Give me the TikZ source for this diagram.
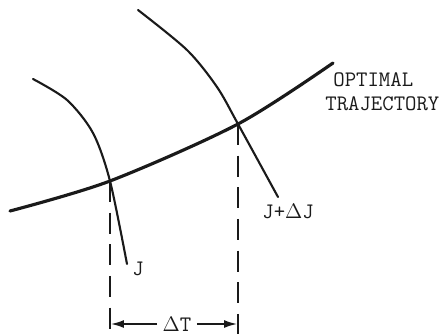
\documentclass[tikz,border=0pt]{standalone}
\usepackage{xcolor}
\definecolor{cInk}{HTML}{1A1A1A}
\usetikzlibrary{positioning,arrows.meta}
\tikzset{
  curve-traj/.style={draw=cInk,line width=1.8pt,line cap=round},
  curve-cost/.style={draw=cInk,line width=1.2pt,line cap=round},
  guide-line/.style={draw=cInk,line width=0.9pt,dash pattern=on 12pt off 6pt},
  dim-arrow/.style={-{Latex[length=2.6mm,width=1.6mm]},draw=cInk,line width=0.9pt},
  node-label/.style={font=\ttfamily\fontsize{12.6}{14}\selectfont,text=cInk,inner sep=0pt},
}

\begin{document}
\begin{tikzpicture}[x=0.02cm,y=-0.02cm]
  \useasboundingbox (0,0) rectangle (443,335);
  % crossing points of the cost curves with the trajectory
  \coordinate (x1) at (110,181);
  \coordinate (x2) at (238,124);
  \coordinate (base) at (0,334);
  % optimal trajectory
  \draw[curve-traj] plot[smooth] coordinates {(10,211) (x1) (x2) (333,63)};
  % cost curves J and J+dJ
  \draw[curve-cost] plot[smooth] coordinates {(33,79) (67,100) (93,133) (x1) (127,264)};
  \draw[curve-cost] plot[smooth] coordinates {(138,10) (187,50) (217,87) (x2) (278,197)};
  \node[node-label,anchor=base west] (labJ)   at (132,275) {J};
  \node[node-label,anchor=base west] (labJdJ) at (262,218) {J+$\Delta$J};
  \node[node-label,anchor=base west] (labOpt) at (333,86)  {OPTIMAL};
  \node[node-label,anchor=base west] (labTraj) at (325,110) {TRAJECTORY};
  % projections and time step
  \draw[guide-line] (x1) -- (x1 |- base);
  \draw[guide-line] (x2) -- (x2 |- base);
  \coordinate (dL) at (111,324);
  \coordinate (dR) at (237,324);
  \node[node-label,inner sep=3pt] (dT) at (177,324) {$\Delta$T};
  \draw[dim-arrow] (dT) -- (dL);
  \draw[dim-arrow] (dT) -- (dR);
\end{tikzpicture}
\end{document}
